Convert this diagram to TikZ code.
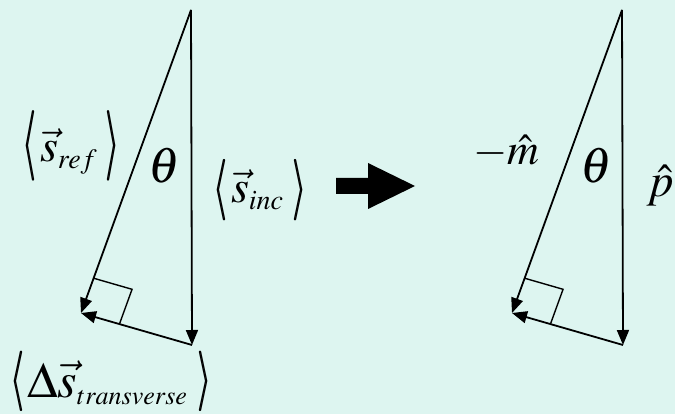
\documentclass[tikz,border=0pt]{standalone}
\usepackage{mathptmx}
\usepackage{graphicx}
\usetikzlibrary{arrows.meta,calc}
\definecolor{bg}{RGB}{221,245,240}
\newcommand\myBra[2]{\raisebox{#2}{\rlap{\resizebox*{13pt}{#1}{$\langle$}}\kern0.8pt\resizebox*{13pt}{#1}{$\langle$}}}
\newcommand\myKet[2]{\raisebox{#2}{\rlap{\resizebox*{13pt}{#1}{$\rangle$}}\kern0.8pt\resizebox*{13pt}{#1}{$\rangle$}}}
\newcommand\mySub[2]{\hbox{\fontsize{#1}{#1}\selectfont$#2$}}
\begin{document}
\begin{tikzpicture}[x=1pt,y=-1pt,
  vecline/.style={line width=1.8pt,-{Triangle[length=15pt,width=12pt]}},
  sqline/.style={line width=1.4pt},
  lbl/.style={inner sep=0pt},
  blockarrow/.style={fill=black}]
\fill[bg] (0,0) rectangle (675,414);
\useasboundingbox (0,0) rectangle (675,414);
% left triangle
\coordinate (t1) at (191,10);
\coordinate (b1) at (192,345);
\coordinate (l1) at (81,313);
\draw[vecline] (t1) -- (b1);
\draw[vecline] (t1) -- (l1);
\draw[vecline] (b1) -- (l1);
\coordinate (s1a) at ($(l1)!37pt!(t1)$);
\coordinate (s1c) at ($(l1)!40pt!(b1)$);
\coordinate (s1b) at ($(s1a)+(s1c)-(l1)$);
\draw[sqline] (s1a) -- (s1b) -- (s1c);
% right triangle
\coordinate (t2) at (622,10);
\coordinate (b2) at (623,345);
\coordinate (l2) at (512,313);
\draw[vecline] (t2) -- (b2);
\draw[vecline] (t2) -- (l2);
\draw[vecline] (b2) -- (l2);
\coordinate (s2a) at ($(l2)!37pt!(t2)$);
\coordinate (s2c) at ($(l2)!40pt!(b2)$);
\coordinate (s2b) at ($(s2a)+(s2c)-(l2)$);
\draw[sqline] (s2a) -- (s2b) -- (s2c);
% block arrow
\fill[blockarrow] (336,178) -- (368,178) -- (368,163) -- (415,186) -- (368,209) -- (368,194) -- (336,194) -- cycle;
% labels
\node[lbl,anchor=base west,font=\fontsize{46}{50}\selectfont] (sref) at (22,162)
  {\hbox to 97pt{\myBra{70pt}{-2pt}\hspace{4pt}$\vec{s}_{\mySub{28}{ref}}$\hfil\myKet{70pt}{-2pt}}};
\node[lbl,font=\fontsize{50}{54}\selectfont] (th1) at (164,166) {$\theta$};
\node[lbl,anchor=base west,font=\fontsize{46}{50}\selectfont] (sinc) at (213,203)
  {\hbox to 93pt{\myBra{61pt}{-2.5pt}\hspace{4pt}$\vec{s}_{\mySub{28}{inc}}$\hfil\myKet{61pt}{-2.5pt}}};
\node[lbl,anchor=base west,font=\fontsize{50}{54}\selectfont] (strans) at (10,397)
  {\hbox to 201pt{\myBra{60pt}{0.5pt}\hspace{3pt}$\Delta\vec{s}_{\mySub{26}{transverse}}$\hfil\myKet{60pt}{0.5pt}}};
\node[lbl,anchor=base west,font=\fontsize{44}{48}\selectfont] (mm) at (473,165) {$-\hat{m}$};
\node[lbl,font=\fontsize{50}{54}\selectfont] (th2) at (596,166) {$\theta$};
\node[lbl,anchor=base west,font=\fontsize{47}{50}\selectfont] (ph) at (647,197) {$\hat{p}$};
\end{tikzpicture}
\end{document}
